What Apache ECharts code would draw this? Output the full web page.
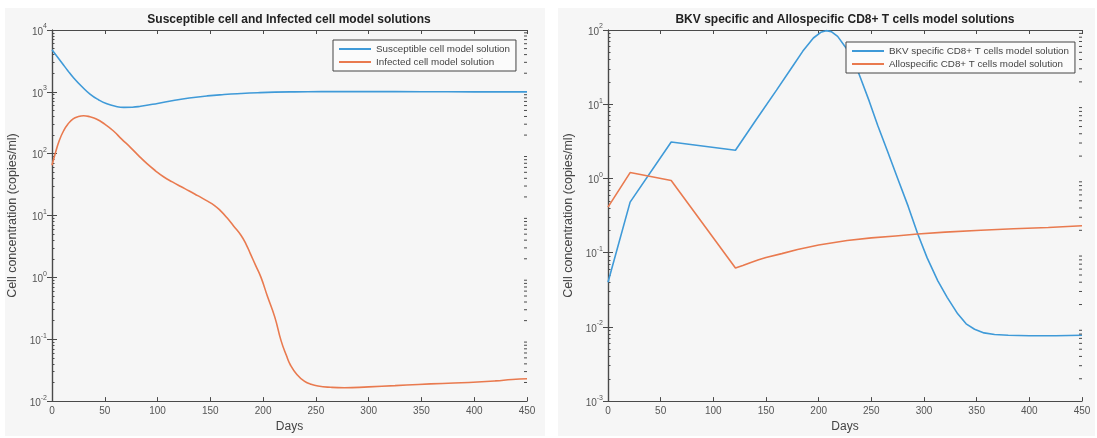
<!DOCTYPE html>
<html>
<head>
<meta charset="utf-8">
<script src="https://cdn.jsdelivr.net/npm/echarts@6/dist/echarts.min.js"></script>
<style>
html,body{margin:0;padding:0;background:#ffffff;}
#chart{width:1097px;height:438px;}
</style>
</head>
<body>
<div id="chart"></div>
<script>
// ---------- data ----------
const titleLeft = 'Susceptible cell and Infected cell model solutions';
const titleRight = 'BKV specific and Allospecific CD8+ T cells model solutions';
const yAxisTitle = 'Cell concentration (copies/ml)';
const xAxisTitle = 'Days';

const susceptibleName = 'Susceptible cell model solution';
const infectedName = 'Infected cell model solution';
const bkvName = 'BKV specific CD8+ T cells model solution';
const alloName = 'Allospecific CD8+ T cells model solution';

const susceptibleDays = [0, 5, 10, 15, 20, 28, 36, 44, 52, 60, 68, 76, 84, 100, 115, 130, 147, 163, 179, 195, 211, 230, 255, 300, 350, 400, 450];
const susceptible     = [4800, 3700, 2850, 2200, 1720, 1230, 920, 745, 640, 585, 562, 565, 585, 650, 725, 795, 860, 905, 940, 968, 988, 1000, 1008, 1010, 1005, 1000, 1000];

const infectedDays = [0, 3, 7, 11, 15, 20, 25, 30, 36, 42, 50, 58, 66, 74, 82, 90, 98, 106, 114, 122, 130, 138, 146, 154, 160, 166, 172, 179, 184, 188, 193, 198, 204, 211, 217, 222, 226, 232, 239, 245, 252, 264, 277, 300, 325, 347, 370, 395, 420, 436, 450];
const infected     = [65, 100, 165, 235, 300, 365, 398, 410, 395, 365, 300, 235, 172, 128, 93, 69, 53, 42, 35, 29.5, 25, 21, 17.6, 14.5, 11.8, 9.1, 6.8, 4.8, 3.4, 2.4, 1.55, 1.0, 0.5, 0.23, 0.095, 0.055, 0.038, 0.027, 0.021, 0.0188, 0.0175, 0.0167, 0.0164, 0.017, 0.0178, 0.0186, 0.0193, 0.020, 0.0212, 0.0224, 0.023];

const bkvDays = [0, 21, 60, 121, 140, 160, 175, 185, 195, 202, 207, 212, 218, 225, 232, 240, 248, 256, 265, 275, 285, 294, 303, 313, 322, 332, 340, 348, 357, 367, 380, 400, 425, 450];
const bkv     = [0.04, 0.48, 3.1, 2.4, 6.0, 15.5, 32, 52, 78, 93, 98, 95, 82, 60, 44, 22, 11, 5.2, 2.4, 1.0, 0.42, 0.18, 0.085, 0.042, 0.025, 0.015, 0.011, 0.0093, 0.0083, 0.0079, 0.0077, 0.0076, 0.0076, 0.0077];

const alloDays = [0, 21, 60, 121, 128, 135, 143, 150, 165, 180, 200, 227, 250, 273, 294, 320, 354, 385, 418, 450];
const allo     = [0.41, 1.2, 0.94, 0.062, 0.067, 0.073, 0.080, 0.086, 0.097, 0.11, 0.127, 0.146, 0.158, 0.168, 0.178, 0.189, 0.2, 0.21, 0.218, 0.23];

const xTicks = { min: 0, max: 450, interval: 50 };
const leftY = { min: 0.01, max: 10000 };
const rightY = { min: 0.001, max: 100 };
const minorMultipliers = [2, 3, 4, 5, 6, 7, 8, 9];

// ---------- helpers ----------
const pairs = (xs, ys) => xs.map((x, i) => [x, ys[i]]);
function minorValues(min, max, xEdge) {
  const out = [];
  const lo = Math.round(Math.log10(min)), hi = Math.round(Math.log10(max));
  for (let e = lo; e < hi; e++) minorMultipliers.forEach(m => out.push([xEdge, m * Math.pow(10, e)]));
  return out;
}
const blue = '#3f9ad8';
const orange = '#e97a4f';
const axisColor = '#4a4a4a';
const labelColor = '#555555';
const fontFam = '"Liberation Sans", Arial, sans-serif';

const supFormatter = v => '{b|10}{s|' + Math.round(Math.log10(v)) + '}';
const richSup = {
  b: { fontSize: 10, color: labelColor, fontFamily: fontFam, lineHeight: 14, verticalAlign: 'bottom' },
  s: { fontSize: 7, color: labelColor, fontFamily: fontFam, lineHeight: 14, verticalAlign: 'top' }
};

function xAxes(gridIndex) {
  return [
    {
      type: 'value', gridIndex, min: xTicks.min, max: xTicks.max, interval: xTicks.interval,
      name: xAxisTitle, nameLocation: 'middle', nameGap: 17,
      nameTextStyle: { fontSize: 12, color: '#444', fontFamily: fontFam },
      axisLine: { lineStyle: { color: axisColor, width: 1.2 } },
      axisTick: { inside: true, length: 4, lineStyle: { color: axisColor } },
      axisLabel: { fontSize: 10, color: labelColor, margin: 5, fontFamily: fontFam },
      splitLine: { show: false }
    },
    {
      type: 'value', gridIndex, position: 'top', min: xTicks.min, max: xTicks.max, interval: xTicks.interval,
      axisLine: { lineStyle: { color: axisColor, width: 1.2 } },
      axisTick: { inside: true, length: 4, lineStyle: { color: axisColor } },
      axisLabel: { show: false }, splitLine: { show: false }
    }
  ];
}
const minorTickStyle = { show: true, splitNumber: 9, length: 2.5, lineStyle: { color: axisColor, width: 1 } };
function yAxes(gridIndex, rng) {
  return [
    {
      type: 'log', logBase: 10, gridIndex, min: rng.min, max: rng.max, interval: 1,
      name: yAxisTitle, nameLocation: 'middle', nameGap: 33, nameRotate: 90,
      nameTextStyle: { fontSize: 12.5, color: '#444', fontFamily: fontFam },
      axisLine: { show: true, lineStyle: { color: axisColor, width: 1.2 } },
      axisTick: { inside: true, length: 5, lineStyle: { color: axisColor } },
      minorTick: minorTickStyle,
      axisLabel: { formatter: supFormatter, rich: richSup, margin: 5 },
      splitLine: { show: false }, minorSplitLine: { show: false }
    },
    {
      type: 'log', logBase: 10, gridIndex, position: 'right', min: rng.min, max: rng.max, interval: 1,
      axisLine: { show: true, lineStyle: { color: axisColor, width: 1.2 } },
      axisTick: { inside: true, length: 5, lineStyle: { color: axisColor } },
      axisLabel: { show: false }, splitLine: { show: false }
    }
  ];
}
function minorSeries(xi, yi, rng, xEdge, dir) {
  return {
    type: 'custom', xAxisIndex: xi, yAxisIndex: yi, silent: true, z: 4, clip: false,
    data: minorValues(rng.min, rng.max, xEdge),
    renderItem: (params, api) => {
      const p = api.coord([api.value(0), api.value(1)]);
      return {
        type: 'line',
        shape: { x1: p[0], y1: p[1], x2: p[0] + dir * 3, y2: p[1] },
        style: { stroke: axisColor, lineWidth: 1 }
      };
    }
  };
}
function lineSeries(name, data, color, xi, yi, smooth) {
  return {
    name, type: 'line', data, xAxisIndex: xi, yAxisIndex: yi,
    symbol: 'none', showSymbol: false, smooth: smooth,
    lineStyle: { color, width: 1.6 }, itemStyle: { color }, z: 3
  };
}
const legendText = { fontSize: 9.8, color: '#444', fontFamily: fontFam };
const legendCommon = {
  orient: 'vertical', icon: 'rect', itemWidth: 32, itemHeight: 2, itemGap: 3,
  padding: [4, 6, 4, 6], backgroundColor: '#fbfbfb', borderColor: '#444', borderWidth: 1,
  borderRadius: 0, textStyle: legendText, selectedMode: false
};

const option = {
  animation: false,
  backgroundColor: '#ffffff',
  graphic: [
    { type: 'rect', z: -10, shape: { x: 5, y: 8, width: 540, height: 428 }, style: { fill: '#f6f6f6' } },
    { type: 'rect', z: -10, shape: { x: 558, y: 8, width: 537, height: 428 }, style: { fill: '#f6f6f6' } },
    { type: 'text', x: 289, y: 20, style: { text: titleLeft, align: 'center', verticalAlign: 'middle', font: 'bold 12px "Liberation Sans", Arial', fill: '#222' } },
    { type: 'text', x: 845, y: 20, style: { text: titleRight, align: 'center', verticalAlign: 'middle', font: 'bold 12px "Liberation Sans", Arial', fill: '#222' } }
  ],
  grid: [
    { left: 52, top: 30, width: 475, height: 376 },
    { left: 608, top: 30, width: 474, height: 377 }
  ],
  legend: [
    Object.assign({ data: [susceptibleName, infectedName], left: 333, top: 40 }, legendCommon),
    Object.assign({ data: [bkvName, alloName], left: 846, top: 42 }, legendCommon)
  ],
  xAxis: [...xAxes(0), ...xAxes(1)],
  yAxis: [...yAxes(0, leftY), ...yAxes(1, rightY)],
  series: [
    minorSeries(0, 0, leftY, xTicks.max, -1),
    minorSeries(2, 2, rightY, xTicks.max, -1),
    lineSeries(susceptibleName, pairs(susceptibleDays, susceptible), blue, 0, 0, 0.5),
    lineSeries(infectedName, pairs(infectedDays, infected), orange, 0, 0, 0.5),
    lineSeries(bkvName, pairs(bkvDays, bkv), blue, 2, 2, false),
    lineSeries(alloName, pairs(alloDays, allo), orange, 2, 2, false)
  ]
};
const chart = echarts.init(document.getElementById('chart'), null, { renderer: 'canvas' });
chart.setOption(option);
</script>
</body>
</html>
